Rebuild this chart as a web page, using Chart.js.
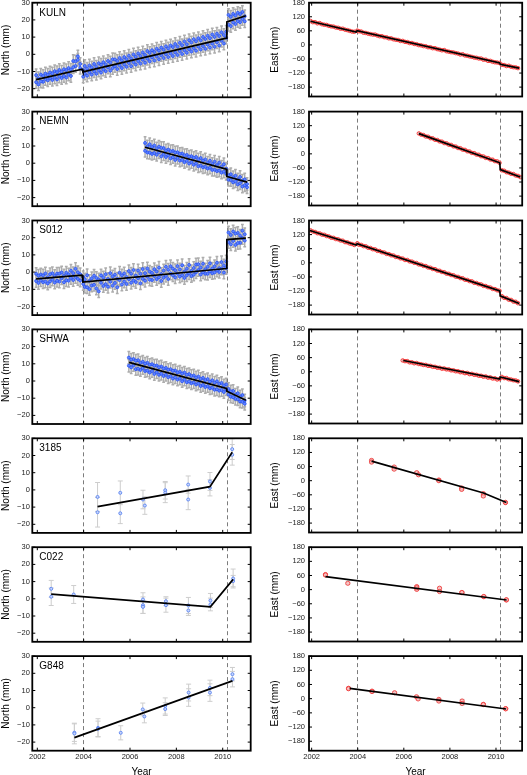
<!DOCTYPE html>
<html>
<head>
<meta charset="utf-8">
<title>GPS time series</title>
<script src="https://cdn.jsdelivr.net/npm/chart.js@4.4.1/dist/chart.umd.min.js"></script>
<style>
  html, body { margin: 0; padding: 0; background: #fff; }
  #page { position: relative; width: 527px; height: 775px; overflow: hidden; }
  #page canvas { position: absolute; }
</style>
</head>
<body>
<div id="page"></div>
<script>
'use strict';

// ---- data ----

const EVENTS = [2003.96, 2010.17];
const YEAR_TICKS = [2002, 2004, 2006, 2008, 2010];
const NORTH_TICKS = [-20, -10, 0, 10, 20, 30];
const EAST_TICKS = [-180, -120, -60, 0, 60, 120, 180];

// continuous stations
const EPOCHS_LONG = [
  2001.95, 2002.05, 2002.15, 2002.25, 2002.35, 2002.45, 2002.55, 2002.65, 2002.75, 2002.85,
  2002.95, 2003.05, 2003.15, 2003.25, 2003.35, 2003.45, 2003.55, 2003.65, 2003.75, 2003.85,
  2003.98, 2004.05, 2004.15, 2004.25, 2004.35, 2004.45, 2004.55, 2004.65, 2004.75, 2004.85,
  2004.95, 2005.05, 2005.15, 2005.25, 2005.35, 2005.45, 2005.55, 2005.65, 2005.75, 2005.85,
  2005.95, 2006.05, 2006.15, 2006.25, 2006.35, 2006.45, 2006.55, 2006.65, 2006.75, 2006.85,
  2006.95, 2007.05, 2007.15, 2007.25, 2007.35, 2007.45, 2007.55, 2007.65, 2007.75, 2007.85,
  2007.95, 2008.05, 2008.15, 2008.25, 2008.35, 2008.45, 2008.55, 2008.65, 2008.75, 2008.85,
  2008.95, 2009.05, 2009.15, 2009.25, 2009.35, 2009.45, 2009.55, 2009.65, 2009.75, 2009.85,
  2009.95, 2010.05, 2010.15, 2010.25, 2010.35, 2010.45, 2010.55, 2010.65, 2010.75, 2010.85,
  2010.95
];
const EPOCHS_NEMN = [
  2006.65, 2006.75, 2006.85, 2006.95, 2007.05, 2007.15, 2007.25, 2007.35, 2007.45, 2007.55,
  2007.65, 2007.75, 2007.85, 2007.95, 2008.05, 2008.15, 2008.25, 2008.35, 2008.45, 2008.55,
  2008.65, 2008.75, 2008.85, 2008.95, 2009.05, 2009.15, 2009.25, 2009.35, 2009.45, 2009.55,
  2009.65, 2009.75, 2009.85, 2009.95, 2010.05, 2010.15, 2010.25, 2010.35, 2010.45, 2010.55,
  2010.65, 2010.75, 2010.85, 2010.95, 2011.05
];
const EPOCHS_SHWA = [
  2005.95, 2006.05, 2006.15, 2006.25, 2006.35, 2006.45, 2006.55, 2006.65, 2006.75, 2006.85,
  2006.95, 2007.05, 2007.15, 2007.25, 2007.35, 2007.45, 2007.55, 2007.65, 2007.75, 2007.85,
  2007.95, 2008.05, 2008.15, 2008.25, 2008.35, 2008.45, 2008.55, 2008.65, 2008.75, 2008.85,
  2008.95, 2009.05, 2009.15, 2009.25, 2009.35, 2009.45, 2009.55, 2009.65, 2009.75, 2009.85,
  2009.95, 2010.05, 2010.15, 2010.25, 2010.35, 2010.45, 2010.55, 2010.65, 2010.75, 2010.85,
  2010.95
];

// two solutions per epoch for the north components
const KULN_N = [
  -16.2, -13.9, -15.8, -12.6, -14.4, -11.9, -13.8, -11.1, -13.5, -10.4,
  -12.9, -10.1, -12.6, -9.2, -11.8, -8.9, -7.5, -4.1, -3.2, -5.6,
  -9.1, -11.2, -8.3, -10.4, -7.6, -9.9, -7.2, -9.4, -6.1, -8.8,
  -5.9, -7.7, -4.8, -8.0, -6.9, -3.9, -6.4, -3.5, -5.9, -2.8,
  -5.1, -2.4, -4.6, -1.5, -3.9, -0.9, -3.2, -0.4, -2.6, 0.8,
  -1.8, 1.3, -1.2, 2.1, -0.5, 2.6, 0.1, 3.4, 0.6, 4.2,
  1.1, 4.5, 1.9, 5.3, 2.4, 5.8, 3.0, 6.9, 3.5, 7.6,
  4.4, 8.1, 4.8, 8.9, 5.6, 9.4, 6.2, 10.1, 7.0, 10.6,
  7.9, 11.2, 9.6, 17.2, 21.8, 18.5, 22.6, 19.3, 23.4, 20.5,
  22.1
];
const KULN_N2 = [
  -12.1, -17.5, -11.8, -16.0, -11.2, -15.1, -10.6, -14.9, -9.8, -14.6,
  -9.1, -13.8, -8.7, -13.5, -8.0, -12.6, -3.9, -6.8, -1.2, -7.9,
  -13.0, -6.8, -12.4, -6.5, -11.8, -5.6, -11.3, -5.2, -10.6, -4.6,
  -9.8, -3.9, -9.5, -2.9, -3.0, -8.6, -2.1, -8.0, -1.6, -7.3,
  -0.8, -6.9, -0.1, -6.0, 0.5, -5.4, 1.1, -4.9, 1.9, -4.1,
  2.4, -3.6, 3.2, -2.9, 3.9, -2.2, 4.6, -1.6, 5.1, -1.0,
  6.0, -0.4, 6.7, 0.2, 7.5, 0.9, 8.2, 1.6, 8.8, 2.1,
  9.4, 2.8, 10.1, 3.2, 10.8, 3.9, 11.5, 4.4, 12.0, 5.1,
  12.8, 6.3, 13.1, 22.9, 16.4, 23.5, 17.6, 24.1, 18.7, 24.6,
  19.2
];
const KULN_E = [
  102, 97, 97, 92, 93, 88, 86, 85, 81, 79,
  78, 74, 73, 69, 69, 65, 63, 60, 57, 56,
  61, 58, 57, 52, 51, 48, 46, 44, 44, 40,
  37, 37, 33, 32, 28, 28, 24, 22, 21, 17,
  17, 13, 12, 8, 8, 4, 3, -1, -2, -5,
  -6, -10, -10, -14, -14, -18, -20, -23, -22, -27,
  -29, -31, -32, -35, -37, -41, -40, -45, -46, -49,
  -51, -54, -55, -58, -58, -63, -63, -68, -68, -72,
  -74, -75, -77, -85, -86, -90, -89, -93, -95, -96,
  -99
];
const NEMN_N = [
  7.2, 9.8, 6.1, 9.4, 5.9, 8.6, 6.3, 8.9, 5.2, 7.4,
  4.6, 7.0, 3.5, 6.2, 3.1, 5.4, 1.9, 4.6, 1.4, 3.8,
  0.6, 3.1, -0.2, 2.2, -1.4, 1.5, -2.1, 0.3, -2.6, -0.4,
  -3.8, -1.1, -4.3, -2.0, -4.9, -3.2, -7.1, -9.8, -8.2, -10.6,
  -9.4, -11.7, -10.2, -12.8, -12.1
];
const NEMN_N2 = [
  11.8, 6.2, 11.0, 5.4, 10.3, 4.9, 9.6, 4.0, 8.8, 3.6,
  7.9, 2.8, 7.1, 1.9, 6.4, 1.5, 5.6, 0.6, 4.8, -0.2,
  4.1, -0.9, 3.6, -1.8, 3.0, -2.4, 2.2, -3.1, 1.4, -3.9,
  0.9, -4.6, 0.3, -5.5, -0.6, -6.1, -9.6, -6.4, -11.1, -7.3,
  -12.3, -8.0, -13.6, -9.4, -14.0
];
const NEMN_E = [
  87, 82, 80, 74, 73, 67, 66, 60, 59, 53,
  52, 46, 45, 39, 38, 32, 31, 25, 24, 18,
  17, 11, 10, 4, 3, -3, -4, -10, -11, -17,
  -18, -24, -25, -31, -32, -38, -70, -72, -78, -80,
  -85, -86, -92, -94, -99
];
const S012_N = [
  -5.2, -2.1, -4.8, -1.9, -5.5, -3.0, -1.2, -4.4, -2.2, -5.1,
  -0.9, -3.6, -2.0, -4.7, -1.3, -3.4, -0.6, -2.9, -4.0, -1.2,
  -6.9, -4.2, -8.8, -5.1, -3.6, -7.4, -9.5, -4.3, -6.2, -3.1,
  -7.0, -4.0, -5.6, -2.5, -6.3, -3.8, -4.6, -1.9, -5.5, -2.8,
  -4.1, -0.9, -4.8, -2.0, -3.6, -1.0, -3.9, -0.6, -2.7, -4.4,
  -0.5, -2.3, 0.4, -3.0, -1.1, 0.9, -2.2, 1.4, -0.8, -1.9,
  1.1, -0.9, 1.5, -1.8, 0.3, 2.0, -0.7, 0.6, 2.4, -0.1,
  1.2, 2.7, -0.1, 1.6, 3.1, 0.5, 2.0, 3.4, 0.9, 2.3,
  2.1, 3.9, 2.4, 17.5, 21.6, 18.1, 22.4, 16.9, 21.2, 19.8,
  22.0
];
const S012_N2 = [
  -1.0, -6.3, -1.4, -5.9, -0.8, -6.6, -5.4, -0.7, -6.1, -0.9,
  -5.5, -0.2, -5.9, -0.4, -5.0, 0.8, -4.6, 1.9, -0.1, -4.9,
  -2.9, -8.6, -1.8, -9.9, -7.8, -2.1, -3.4, -11.2, -1.9, -8.1,
  -1.2, -8.5, -0.6, -7.9, -1.5, -8.8, -0.4, -7.2, -0.8, -6.9,
  0.6, -6.2, 1.2, -5.8, 0.9, -6.5, 1.8, -5.0, 2.1, 0.3,
  -4.6, 1.7, -4.1, 2.6, -5.2, -3.3, 3.1, -4.0, 3.4, 2.0,
  -3.1, 3.5, -2.6, 4.0, -3.4, -1.9, 4.2, -2.3, -1.5, 4.4,
  4.6, -1.4, 4.9, -0.9, -1.0, 5.1, -0.6, -0.2, 5.4, 0.1,
  5.8, -0.3, 6.2, 23.0, 16.2, 23.6, 15.8, 22.8, 17.0, 24.1,
  18.3
];
const S012_E = [
  138, 133, 131, 126, 125, 120, 119, 114, 112, 107,
  106, 101, 100, 95, 94, 88, 87, 82, 80, 76,
  83, 77, 76, 71, 70, 64, 63, 58, 57, 51,
  50, 45, 44, 38, 37, 32, 31, 25, 24, 19,
  18, 12, 12, 6, 5, 0, -1, -7, -8, -13,
  -14, -20, -21, -26, -27, -33, -34, -39, -40, -46,
  -47, -52, -53, -59, -60, -65, -66, -72, -73, -78,
  -79, -85, -86, -91, -92, -98, -99, -104, -105, -111,
  -112, -117, -119, -142, -149, -150, -157, -158, -165, -166,
  -172
];
const SHWA_N = [
  8.9, 12.4, 9.2, 11.8, 7.1, 10.6, 7.5, 10.1, 6.0, 9.4,
  5.8, 8.9, 5.1, 8.0, 4.2, 7.3, 3.6, 6.5, 2.8, 5.9,
  2.1, 5.0, 1.4, 4.3, 0.8, 3.6, -0.3, 2.9, -0.8, 2.0,
  -1.5, 1.2, -2.3, 0.5, -3.0, -0.4, -3.9, -1.0, -4.8, -1.7,
  -5.2, -2.6, -4.9, -7.8, -6.0, -9.4, -7.9, -10.6, -9.0, -12.1,
  -11.3
];
const SHWA_N2 = [
  13.6, 7.9, 12.8, 6.9, 12.1, 6.4, 11.2, 5.8, 10.6, 4.9,
  9.8, 4.1, 9.0, 3.6, 8.4, 2.9, 7.6, 2.2, 6.9, 1.4,
  6.1, 0.8, 5.4, -0.1, 4.9, -0.7, 4.0, -1.3, 3.2, -2.0,
  2.6, -2.9, 1.8, -3.5, 1.1, -4.2, 0.4, -5.1, -0.2, -5.6,
  -1.1, -6.4, -2.0, -4.6, -9.1, -5.8, -10.4, -7.1, -11.9, -8.2,
  -13.2
];
const SHWA_E = [
  48, 45, 45, 40, 40, 36, 37, 33, 32, 29,
  29, 25, 25, 21, 21, 17, 17, 13, 14, 10,
  10, 6, 6, 2, 2, -2, -2, -6, -5, -10,
  -9, -13, -13, -17, -17, -21, -20, -25, -24, -29,
  -28, -33, -31, -22, -27, -27, -32, -33, -36, -37,
  -41
];
const CGPS_N_SIGMA = 3.6;
const CGPS_E_SIGMA = 4;

// campaign stations
const EPOCHS_3185 = [2004.60, 2004.60, 2005.58, 2005.58, 2006.56, 2006.64, 2007.52, 2007.52, 2008.51, 2008.51, 2009.45, 2009.45, 2010.41, 2010.41];
const N_3185 = [-4.1, -13.0, -1.7, -13.6, -5.6, -9.1, -0.2, -1.6, 3.1, -5.6, 4.9, 1.2, 23.7, 20.4];
const N_3185_ERR = [8.4, 8.6, 6.9, 6.0, 5.4, 5.1, 5.1, 5.8, 5.0, 5.9, 5.2, 4.7, 6.0, 6.0];
const E_3185 = [86, 79, 58, 49, 34, 25, 3, 0, -31, -37, -55, -65, -93, -92];
const E_3185_ERR = [5, 5, 5, 5, 5, 5, 4, 4, 5, 5, 5, 5, 3, 3];

const EPOCHS_C022 = [2002.60, 2002.60, 2003.57, 2006.56, 2006.56, 2006.56, 2007.55, 2007.55, 2008.52, 2008.52, 2009.47, 2009.47, 2010.45, 2010.45];
const N_C022 = [5.8, 1.2, 2.5, -0.4, -3.7, -4.7, -1.4, -3.7, -3.9, -6.8, -1.0, -3.3, 11.8, 10.3];
const N_C022_ERR = [4.9, 5.1, 5.2, 3.9, 4.8, 3.8, 2.6, 4.1, 4.7, 2.9, 4.1, 3.7, 5.5, 3.3];
const E_C022 = [64, 62, 27, 13, 1, 8, 6, -8, -13, -12, -30, -29, -44, -43];
const E_C022_ERR = [4, 4, 4, 4, 4, 4, 4, 4, 4, 4, 4, 4, 3, 3];

const EPOCHS_G848 = [2003.60, 2003.60, 2004.62, 2004.62, 2005.60, 2006.55, 2006.62, 2007.52, 2007.52, 2008.53, 2008.53, 2009.45, 2009.45, 2010.42, 2010.42];
const N_G848 = [-14.5, -15.0, -11.7, -12.3, -14.6, -1.0, -5.1, 1.0, -0.8, 8.8, 5.9, 11.5, 8.8, 19.5, 16.6];
const N_G848_ERR = [5.1, 6.0, 5.3, 4.5, 4.1, 3.7, 3.7, 4.7, 3.7, 4.9, 5.1, 4.5, 5.1, 3.9, 4.5];
const E_G848 = [44, 42, 32, 30, 25, 8, -1, -3, -10, -10, -20, -24, -25, -42, -43];
const E_G848_ERR = [4, 4, 4, 4, 4, 4, 4, 4, 4, 7, 7, 4, 4, 3, 3];

// fitted models [year, mm]
const KULN_N_MODEL = [[2001.95, -14.7], [2003.93, -8.7], [2003.97, -10.2], [2010.16, 9.4], [2010.18, 18.8], [2011.0, 22.4]];
const KULN_E_MODEL = [[2001.95, 101], [2003.93, 55], [2003.97, 61], [2010.16, -77], [2010.18, -83], [2011.0, -99]];
const NEMN_N_MODEL = [[2006.65, 9.3], [2010.16, -3.5], [2010.18, -7.7], [2011.05, -11.0]];
const NEMN_E_MODEL = [[2006.65, 86], [2010.16, -38], [2010.18, -67], [2011.05, -98.5]];
const S012_N_MODEL = [[2001.95, -3.9], [2003.93, -1.8], [2003.97, -5.8], [2010.16, 2.1], [2010.18, 18.9], [2011.0, 19.7]];
const S012_E_MODEL = [[2001.92, 137.7], [2003.93, 76], [2003.97, 81.5], [2010.16, -119.5], [2010.18, -140.5], [2011.0, -173.5]];
const SHWA_N_MODEL = [[2005.96, 10.8], [2010.16, -4.3], [2010.18, -5.9], [2011.0, -11.2]];
const SHWA_E_MODEL = [[2005.98, 47.8], [2010.16, -31], [2010.18, -22], [2011.0, -42]];
const N_3185_MODEL = [[2004.60, -9.7], [2009.45, 1.9], [2010.41, 21.9]];
const E_3185_MODEL = [[2004.60, 83], [2009.46, -52], [2010.45, -93]];
const N_C022_MODEL = [[2002.60, 2.7], [2009.47, -4.7], [2010.45, 11.3]];
const E_C022_MODEL = [[2002.60, 55.3], [2010.46, -44]];
const N_G848_MODEL = [[2003.60, -17.4], [2010.42, 15.6]];
const E_G848_MODEL = [[2003.65, 43.7], [2010.44, -43.7]];

// ---- layout / style ----

const FONT = "'Liberation Sans', Arial, Helvetica, sans-serif";
Chart.defaults.font.family = FONT;

const ROW_TOP = [2.7, 111.6, 220.5, 329.4, 438.3, 547.2, 656.1];
const PANEL_H = 94.6;
const COLS = [
  { left: 0, width: 256, frameLeft: 32.3, frameRight: 250.7, xMin: 2001.784, xMax: 2011.208, tickPad: 2.5, titlePad: 0, yTitle: 'North (mm)', yMin: -25, yMax: 30, yTicks: NORTH_TICKS },
  { left: 262, width: 265, frameLeft: 309, frameRight: 525.5, xMin: 2001.885, xMax: 2011.133, tickPad: 4, titlePad: 7, yTitle: 'East (mm)', yMin: -220, yMax: 180, yTicks: EAST_TICKS }
];

const STYLES = {
  cN: { r: 1.5, bw: 0.7, border: '#1c46f5', fill: '#5f86ff', errColor: '#adadad', errW: 1.5, cap: 1.4 },
  cE: { r: 1.8, bw: 0.8, border: '#ff2424', fill: 'rgba(255,170,170,0.35)', errColor: '#b8b8b8', errW: 1.2, cap: 1.4 },
  gN: { r: 1.5, bw: 0.9, border: '#5b84f2', fill: '#c9d7fb', errColor: '#cdcdcd', errW: 1, cap: 2.5 },
  gE: { r: 2.1, bw: 0.9, border: '#f04040', fill: 'rgba(255,190,190,0.7)', errColor: '#cdcdcd', errW: 1, cap: 2.5 }
};

const PANELS = [
  { row: 0, col: 0, name: 'KULN', t: EPOCHS_LONG, v: KULN_N, v2: KULN_N2, err: CGPS_N_SIGMA, model: KULN_N_MODEL, style: 'cN' },
  { row: 0, col: 1, t: EPOCHS_LONG, v: KULN_E, err: CGPS_E_SIGMA, model: KULN_E_MODEL, style: 'cE' },
  { row: 1, col: 0, name: 'NEMN', t: EPOCHS_NEMN, v: NEMN_N, v2: NEMN_N2, err: CGPS_N_SIGMA, model: NEMN_N_MODEL, style: 'cN' },
  { row: 1, col: 1, t: EPOCHS_NEMN, v: NEMN_E, err: CGPS_E_SIGMA, model: NEMN_E_MODEL, style: 'cE' },
  { row: 2, col: 0, name: 'S012', t: EPOCHS_LONG, v: S012_N, v2: S012_N2, err: CGPS_N_SIGMA, model: S012_N_MODEL, style: 'cN' },
  { row: 2, col: 1, t: EPOCHS_LONG, v: S012_E, err: CGPS_E_SIGMA, model: S012_E_MODEL, style: 'cE' },
  { row: 3, col: 0, name: 'SHWA', t: EPOCHS_SHWA, v: SHWA_N, v2: SHWA_N2, err: CGPS_N_SIGMA, model: SHWA_N_MODEL, style: 'cN' },
  { row: 3, col: 1, t: EPOCHS_SHWA, v: SHWA_E, err: CGPS_E_SIGMA, model: SHWA_E_MODEL, style: 'cE' },
  { row: 4, col: 0, name: '3185', t: EPOCHS_3185, v: N_3185, err: N_3185_ERR, model: N_3185_MODEL, style: 'gN' },
  { row: 4, col: 1, t: EPOCHS_3185, v: E_3185, err: E_3185_ERR, model: E_3185_MODEL, style: 'gE' },
  { row: 5, col: 0, name: 'C022', t: EPOCHS_C022, v: N_C022, err: N_C022_ERR, model: N_C022_MODEL, style: 'gN' },
  { row: 5, col: 1, t: EPOCHS_C022, v: E_C022, err: E_C022_ERR, model: E_C022_MODEL, style: 'gE' },
  { row: 6, col: 0, name: 'G848', t: EPOCHS_G848, v: N_G848, err: N_G848_ERR, model: N_G848_MODEL, style: 'gN' },
  { row: 6, col: 1, t: EPOCHS_G848, v: E_G848, err: E_G848_ERR, model: E_G848_MODEL, style: 'gE' }
];

const fmtY = v => (v < 0 ? '\u2212' + Math.abs(v) : String(v));

// event lines, error bars, frame with inward ticks, station name
const panelDecor = {
  id: 'panelDecor',
  beforeDatasetsDraw(chart) {
    const { ctx, chartArea: a, scales: { x, y } } = chart;
    ctx.save();
    ctx.beginPath();
    ctx.rect(a.left, a.top, a.right - a.left, a.bottom - a.top);
    ctx.clip();

    ctx.strokeStyle = '#7c7c7c';
    ctx.lineWidth = 1;
    ctx.setLineDash([4, 3]);
    EVENTS.forEach(ev => {
      const px = Math.round(x.getPixelForValue(ev)) + 0.5;
      ctx.beginPath();
      ctx.moveTo(px, a.top);
      ctx.lineTo(px, a.bottom);
      ctx.stroke();
    });
    ctx.setLineDash([]);

    chart.data.datasets.forEach(ds => {
      if (ds.err === undefined) return;
      ctx.strokeStyle = ds.errColor;
      ctx.lineWidth = ds.errW;
      ctx.beginPath();
      ds.data.forEach((p, j) => {
        const e = Array.isArray(ds.err) ? ds.err[j] : ds.err;
        const px = x.getPixelForValue(p.x);
        const y1 = y.getPixelForValue(p.y + e);
        const y2 = y.getPixelForValue(p.y - e);
        ctx.moveTo(px, y1); ctx.lineTo(px, y2);
        ctx.moveTo(px - ds.cap, y1); ctx.lineTo(px + ds.cap, y1);
        ctx.moveTo(px - ds.cap, y2); ctx.lineTo(px + ds.cap, y2);
      });
      ctx.stroke();
    });
    ctx.restore();
  },
  afterDraw(chart, args, opts) {
    const { ctx, chartArea: a, scales: { x, y } } = chart;
    ctx.save();
    ctx.strokeStyle = '#000';
    ctx.lineWidth = 1;
    ctx.beginPath();
    x.ticks.forEach(t => {
      const px = x.getPixelForValue(t.value);
      ctx.moveTo(px, a.bottom); ctx.lineTo(px, a.bottom - 3);
      ctx.moveTo(px, a.top); ctx.lineTo(px, a.top + 3);
    });
    y.ticks.forEach(t => {
      const py = y.getPixelForValue(t.value);
      ctx.moveTo(a.left, py); ctx.lineTo(a.left + 3, py);
      ctx.moveTo(a.right, py); ctx.lineTo(a.right - 3, py);
    });
    ctx.stroke();
    ctx.lineWidth = 1.8;
    ctx.strokeRect(a.left, a.top, a.right - a.left, a.bottom - a.top);
    if (opts.name) {
      ctx.fillStyle = '#000';
      ctx.font = '10px ' + FONT;
      ctx.textBaseline = 'alphabetic';
      ctx.fillText(opts.name, a.left + 7, a.top + 12.8);
    }
    ctx.restore();
  }
};

// render panels
const page = document.getElementById('page');
const lastRow = ROW_TOP.length - 1;

PANELS.forEach(p => {
  const col = COLS[p.col];
  const st = STYLES[p.style];
  const isBottom = p.row === lastRow;
  const top = ROW_TOP[p.row];
  const canvasTop = Math.floor(top) - 9;
  const height = isBottom ? 778 - canvasTop : 112;
  const padTop = top - canvasTop;
  const xH = height - padTop - PANEL_H;
  const yW = col.frameLeft - col.left;
  const padRight = col.left + col.width - col.frameRight;

  const canvas = document.createElement('canvas');
  canvas.width = col.width;
  canvas.height = height;
  canvas.style.left = col.left + 'px';
  canvas.style.top = canvasTop + 'px';
  page.appendChild(canvas);

  const obs = vals => ({
    data: p.t.map((x, i) => ({ x, y: vals[i] })),
    err: p.err,
    errColor: st.errColor,
    errW: st.errW,
    cap: st.cap,
    pointRadius: st.r,
    borderWidth: st.bw,
    borderColor: st.border,
    backgroundColor: st.fill,
    order: 1
  });

  const datasets = [
    {
      data: p.model.map(([x, y]) => ({ x, y })),
      showLine: true,
      borderColor: '#000',
      borderWidth: 1.7,
      pointRadius: 0,
      tension: 0,
      order: 0
    },
    obs(p.v)
  ];
  if (p.v2) datasets.push(obs(p.v2));

  const config = {
    type: 'scatter',
    data: { datasets },
    options: {
      responsive: false,
      animation: false,
      devicePixelRatio: 1,
      layout: { padding: { top: padTop, right: padRight, bottom: 0, left: 0 } },
      plugins: {
        legend: { display: false },
        tooltip: { enabled: false },
        panelDecor: { name: p.name || '' }
      },
      scales: {
        x: {
          type: 'linear',
          min: col.xMin,
          max: col.xMax,
          afterBuildTicks: s => { s.ticks = YEAR_TICKS.map(v => ({ value: v })); },
          afterFit: s => { s.height = xH; },
          grid: { display: false, drawTicks: false },
          border: { display: false },
          ticks: {
            display: isBottom,
            padding: 2,
            maxRotation: 0,
            autoSkip: false,
            color: '#222',
            font: { size: 7.5 },
            callback: v => String(v)
          },
          title: {
            display: isBottom,
            text: 'Year',
            color: '#000',
            font: { size: 10 },
            padding: { top: 0, bottom: 0 }
          }
        },
        y: {
          type: 'linear',
          min: col.yMin,
          max: col.yMax,
          afterBuildTicks: s => { s.ticks = col.yTicks.map(v => ({ value: v })); },
          afterFit: s => { s.width = yW; },
          grid: { display: false, drawTicks: false },
          border: { display: false },
          ticks: {
            padding: col.tickPad,
            autoSkip: false,
            color: '#222',
            font: { size: 7.5 },
            callback: fmtY
          },
          title: {
            display: true,
            text: col.yTitle,
            color: '#000',
            font: { size: 10 },
            padding: { top: col.titlePad, bottom: 0 }
          }
        }
      }
    },
    plugins: [panelDecor]
  };

  new Chart(canvas, config);
});
</script>
</body>
</html>
